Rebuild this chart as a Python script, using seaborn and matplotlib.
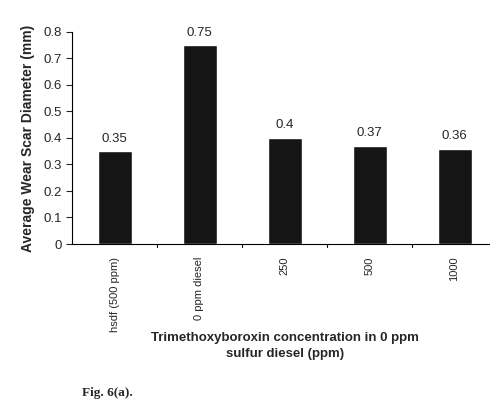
import numpy as np
import pandas as pd
import matplotlib
matplotlib.use('Agg')
import matplotlib.pyplot as plt
import seaborn as sns

# data
categories = ['hsdf (500 ppm)', '0 ppm diesel', '250', '500', '1000']
wear_scar = [0.35, 0.75, 0.40, 0.37, 0.36]
value_labels = ['0.35', '0.75', '0.4', '0.37', '0.36']

df = pd.DataFrame({'conc': categories, 'wsd': wear_scar})

sns.set_style('white')
plt.rcParams['font.family'] = ['Liberation Sans', 'DejaVu Sans']

fig = plt.figure(figsize=(4.9, 4.11), dpi=100)
ax = fig.add_axes([72 / 490, 167 / 411, 418 / 490, 212 / 411])

sns.barplot(x='conc', y='wsd', data=df, color='#151515', width=0.4,
            saturation=1, ax=ax)

for i, (v, lab) in enumerate(zip(wear_scar, value_labels)):
    ax.text(i, v + 0.025, lab, ha='center', va='bottom', fontsize=9.5)

ax.set_ylim(0, 0.8)
ax.set_xlim(-0.5, -0.5 + 418 / 85)
ax.set_yticks(np.arange(0, 0.81, 0.1))
ax.set_yticklabels(['0', '0.1', '0.2', '0.3', '0.4', '0.5', '0.6', '0.7', '0.8'],
                   fontsize=9.5)
ax.set_xticks(range(len(categories)))
ax.set_xticklabels(categories, rotation=90, fontsize=8, va='top')
ax.tick_params(axis='x', length=0, pad=9)
ax.tick_params(axis='y', length=4, width=0.8, direction='out', left=True)
# separators between categories
for b in np.arange(0.5, 4.5, 1.0):
    ax.plot([b, b], [0, -0.012], color='black', lw=0.8, clip_on=False)

for s in ['top', 'right']:
    ax.spines[s].set_visible(False)
ax.spines['left'].set_color('black')
ax.spines['bottom'].set_color('black')
ax.spines['left'].set_linewidth(0.8)
ax.spines['bottom'].set_linewidth(0.8)

ax.set_ylabel('Average Wear Scar Diameter (mm)', fontsize=10, fontweight='bold',
              labelpad=6)
ax.set_xlabel('')
fig.text(285 / 490, 1 - 346 / 411,
         'Trimethoxyboroxin concentration in 0 ppm\nsulfur diesel (ppm)',
         ha='center', va='center', fontsize=9.5, fontweight='bold',
         linespacing=1.4)

fig.text(82 / 490, 1 - 393 / 411, 'Fig. 6(a).', ha='left', va='center',
         fontsize=9.5, fontweight='bold', family='Liberation Serif')

plt.savefig('out.png', dpi=100)
